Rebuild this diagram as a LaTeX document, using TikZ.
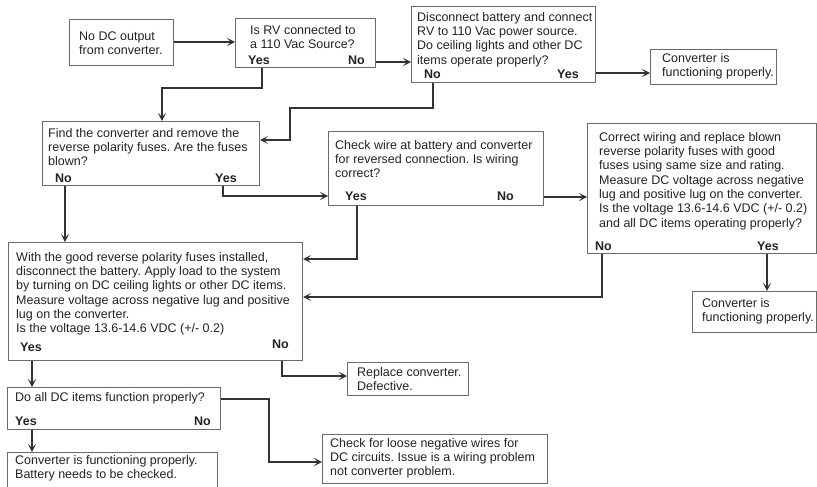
\documentclass[tikz,border=0pt]{standalone}
\usepackage{fontspec}
\setmainfont{Liberation Sans}
\usetikzlibrary{arrows.meta}
\definecolor{boxc}{HTML}{6A6A6A}
\definecolor{linec}{HTML}{333333}
\definecolor{txtc}{HTML}{222222}
\tikzset{
 box/.style={draw=boxc, line width=1.1pt, rectangle, inner sep=0pt, anchor=north west},
 txt/.style={inner sep=0pt, anchor=north west, align=left, text=txtc, font=\fontsize{12.5}{14.3}\selectfont\frenchspacing},
 yn/.style={inner sep=0pt, anchor=base west, text=txtc, font=\fontsize{12.5}{14.3}\selectfont\bfseries},
 conn/.style={draw=linec, line width=1.8pt, -{Stealth[length=8pt,width=8pt,inset=4pt]}},
}
\newcommand\mybox[5]{\node[box, minimum width=#4-#2, minimum height=#5-#3] (#1) at (#2,#3) {};}
\newcommand\mytext[4]{\node[txt] (#1) at (#2,#3-10.01) {\strut #4};}
\begin{document}
\begin{tikzpicture}[x=1pt,y=-1pt]
\useasboundingbox (0,0) rectangle (817,487);
% boxes
\mybox{b1}{69}{19}{173}{65}
\mybox{b2}{235}{18}{375}{67}
\mybox{b3}{411}{6}{595}{82}
\mybox{b4}{650}{49}{776}{84}
\mybox{b5}{42}{121}{259}{185}
\mybox{b6}{328}{131}{543}{205}
\mybox{b7}{587}{123}{816}{253}
\mybox{b8}{8}{242}{302}{360}
\mybox{b9}{692}{291}{816}{332}
\mybox{b10}{347}{362}{468}{395}
\mybox{b11}{7}{387}{220}{429}
\mybox{b12}{7}{452}{217}{486.5}
\mybox{b13}{322}{434}{547}{483}
% texts
\mytext{t1}{79}{40}{No DC output\\from converter.}
\mytext{t2}{250}{34}{Is RV connected to\\a 110 Vac Source?}
\node[yn] (y2) at (248,64.5) {Yes};
\node[yn] (n2) at (348,64.5) {No};
\mytext{t3}{417}{21}{Disconnect battery and connect\\RV to 110 Vac power source.\\Do ceiling lights and other DC\\items operate properly?}
\node[yn] (n3) at (424,79) {No};
\node[yn] (y3) at (557,79) {Yes};
\mytext{t4}{662}{62}{Converter is\\functioning properly.}
\mytext{t5}{48}{137}{Find the converter and remove the\\reverse polarity fuses. Are the fuses\\blown?}
\node[yn] (n5) at (55,182.5) {No};
\node[yn] (y5) at (215,182.5) {Yes};
\mytext{t6}{335}{149}{Check wire at battery and converter\\for reversed connection. Is wiring\\correct?}
\node[yn] (y6) at (345,200) {Yes};
\node[yn] (n6) at (497,200) {No};
\mytext{t7}{599}{141}{Correct wiring and replace blown\\reverse polarity fuses with good\\fuses using same size and rating.\\Measure DC voltage across negative\\lug and positive lug on the converter.\\Is the voltage 13.6-14.6 VDC (+/- 0.2)\\and all DC items operating properly?}
\node[yn] (n7) at (595,250) {No};
\node[yn] (y7) at (757,250) {Yes};
\mytext{t8}{16}{261}{With the good reverse polarity fuses installed,\\disconnect the battery. Apply load to the system\\by turning on DC ceiling lights or other DC items.\\Measure voltage across negative lug and positive\\lug on the converter.\\Is the voltage 13.6-14.6 VDC (+/- 0.2)}
\node[yn] (y8) at (20,351) {Yes};
\node[yn] (n8) at (272,348) {No};
\mytext{t9}{702}{307}{Converter is\\functioning properly.}
\mytext{t10}{357}{376}{Replace converter.\\Defective.}
\mytext{t11}{15}{401}{Do all DC items function properly?}
\node[yn] (y11) at (15,425) {Yes};
\node[yn] (n11) at (194,425) {No};
\mytext{t12}{15}{464}{Converter is functioning properly.\\Battery needs to be checked.}
\mytext{t13}{330}{447}{Check for loose negative wires for\\DC circuits. Issue is a wiring problem\\not converter problem.}
% connectors
\draw[conn] (b1.east |- 0,42) -- (b2.west |- 0,42);
\draw[conn] (b2.east |- 0,62) -- (b3.west |- 0,62);
\draw[conn] (b3.east |- 0,73) -- (b4.west |- 0,73);
\draw[conn] (b2.south -| 262,0) |- (162,88) -- (b5.north -| 162,0);
\draw[conn] (b3.south -| 433,0) |- (290,108) |- (b5.east |- 0,140);
\draw[conn] (b5.south -| 223,0) |- (b6.west |- 0,196);
\draw[conn] (b5.south -| 65,0) -- (b8.north -| 65,0);
\draw[conn] (b6.east |- 0,197) -- (b7.west |- 0,197);
\draw[conn] (b6.south -| 357,0) |- (b8.east |- 0,259);
\draw[conn] (b7.south -| 602,0) |- (b8.east |- 0,297);
\draw[conn] (b7.south -| 767,0) -- (b9.north -| 767,0);
\draw[conn] (b8.south -| 282,0) |- (b10.west |- 0,376);
\draw[conn] (b8.south -| 32,0) -- (b11.north -| 32,0);
\draw[conn] (b11.east |- 0,399) -- (269,399) |- (b13.west |- 0,462);
\draw[conn] (b11.south -| 32,0) -- (b12.north -| 32,0);
\end{tikzpicture}
\end{document}
